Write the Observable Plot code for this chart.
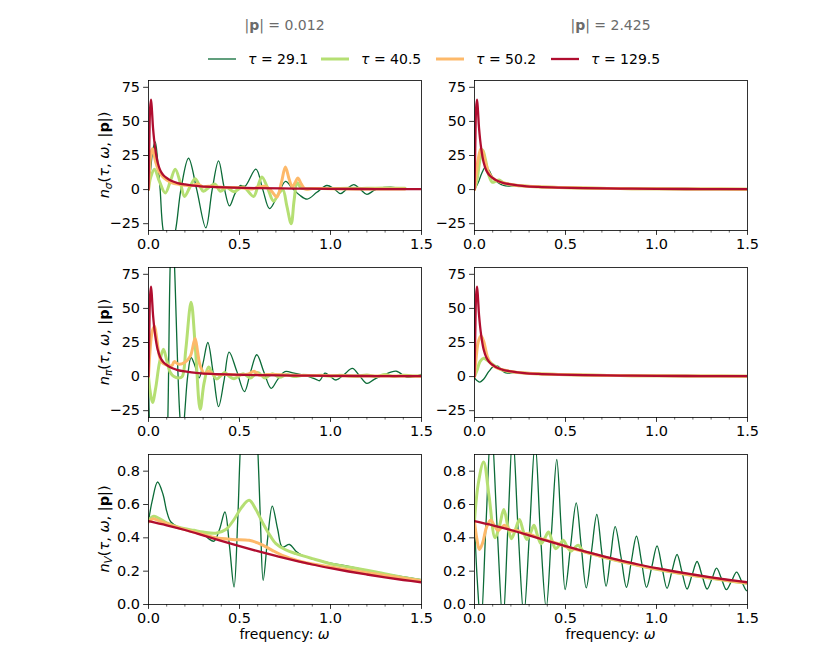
<!DOCTYPE html>
<html><head><meta charset="utf-8">
<script src="https://cdn.jsdelivr.net/npm/d3@7"></script>
<script src="https://cdn.jsdelivr.net/npm/@observablehq/plot@0.6"></script>
<style>
body{margin:0;background:#fff;font-family:"DejaVu Sans",sans-serif;}
#fig{position:relative;width:830px;height:664px;overflow:hidden;background:#fff;}
</style></head><body><div id="fig"></div>
<script>
// ---------- tick labels / categories ----------
const omegaTicks = [0, 0.5, 1.0, 1.5];
const omegaMinor = [0.1,0.2,0.3,0.4,0.6,0.7,0.8,0.9,1.1,1.2,1.3,1.4];
const yTicksN = [-25, 0, 25, 50, 75];
const yTicksV = [0, 0.2, 0.4, 0.6, 0.8];
const tauLabels = ["29.1", "40.5", "50.2", "129.5"];
const momentumLabels = ["0.012", "2.425"];
const rowSubscripts = ["σ", "π", "V"];

// ---------- series: [omega, value] ----------
// n_sigma, |p| = 0.012
const sigA_t29 = [[0,0],[0.012,15],[0.025,30],[0.037,35],[0.05,22],[0.064,0],[0.082,-31],[0.115,-45],[0.147,-31],[0.178,0],[0.22,23],[0.265,0],[0.315,-28],[0.35,0],[0.385,21],[0.415,2],[0.445,-12],[0.475,-3],[0.504,3],[0.53,2.5],[0.59,15],[0.628,0],[0.665,-14],[0.71,-4],[0.753,6],[0.79,1],[0.83,-4],[0.872,-7],[0.925,-2],[0.98,3],[1.02,0.5],[1.055,-3],[1.09,0.5],[1.128,3.7],[1.165,0],[1.2,-3.5],[1.24,-0.5],[1.274,1.2],[1.33,1.7],[1.37,1.3],[1.41,1]];
const sigA_t40 = [[0,0],[0.012,9],[0.033,15],[0.06,6],[0.092,-2.5],[0.12,6],[0.147,15],[0.175,5],[0.198,-5],[0.228,2],[0.256,8],[0.28,3],[0.302,-1.2],[0.335,2],[0.366,4],[0.394,-1.2],[0.43,1.5],[0.47,-1.5],[0.52,2],[0.577,-5],[0.6,2],[0.623,9.3],[0.655,1],[0.687,-8.5],[0.715,-3],[0.738,0],[0.76,-12],[0.784,-25],[0.8,-8],[0.817,5],[0.84,1],[0.9,0.8],[1.0,0.8],[1.1,0.9],[1.2,0.9],[1.3,1.2],[1.41,1]];
const sigA_t50 = [[0,0],[0.006,15],[0.014,27],[0.022,30],[0.03,26],[0.04,20],[0.055,14],[0.075,10],[0.1,7],[0.13,5],[0.16,4],[0.2,3.2],[0.24,3],[0.27,4],[0.3,2],[0.33,2.5],[0.37,2],[0.42,1.5],[0.47,1.5],[0.52,1.2],[0.57,0.5],[0.6,1.5],[0.64,2.4],[0.675,-1],[0.705,-5.4],[0.73,5],[0.752,16.6],[0.772,8],[0.79,2],[0.805,5],[0.82,8.5],[0.84,4],[0.86,0.5],[0.9,0.8],[1.0,0.6],[1.2,0.45],[1.41,0.35]];
// red curve shared by n_sigma and n_pi panels
const nRed_t129 = [[0,0],[0.004,30],[0.009,60],[0.014,66],[0.019,58],[0.025,45],[0.037,30],[0.05,20],[0.065,14],[0.082,10.5],[0.1,8.5],[0.128,6.3],[0.16,4.8],[0.2,3.8],[0.275,2.6],[0.35,2.0],[0.46,1.5],[0.6,1.1],[0.8,0.75],[1.0,0.55],[1.25,0.4],[1.5,0.3]];

// n_sigma, |p| = 2.425
const sigB_t29 = [[0,0],[0.02,5],[0.04,12],[0.06,16.5],[0.08,14],[0.1,9],[0.13,5],[0.16,3],[0.19,2.6],[0.22,2.8],[0.275,2.6],[0.35,2.0],[0.46,1.5],[0.6,1.1],[0.8,0.75],[1.0,0.55],[1.25,0.4],[1.5,0.3]];
const sigB_t40 = [[0,0],[0.015,8],[0.03,22],[0.045,29],[0.06,22],[0.08,10],[0.097,5.5],[0.115,6],[0.135,7],[0.16,5],[0.2,3.6],[0.275,2.6],[0.35,2.0],[0.46,1.5],[0.6,1.1],[0.8,0.75],[1.0,0.55],[1.25,0.4],[1.5,0.3]];
const sigB_t50 = [[0,0],[0.01,12],[0.02,22],[0.035,30],[0.045,28],[0.06,20],[0.08,12],[0.1,8.5],[0.128,6.3],[0.16,4.8],[0.2,3.8],[0.275,2.6],[0.35,2.0],[0.46,1.5],[0.6,1.1],[0.8,0.75],[1.0,0.55],[1.25,0.4],[1.5,0.3]];

// n_pi, |p| = 0.012
const piA_t29 = [[0,0],[0.005,-32],[0.02,-70],[0.05,-90],[0.08,-75],[0.1,-50],[0.106,-32],[0.119,81],[0.131,120],[0.143,81],[0.174,-32],[0.187,-45],[0.2,-25],[0.215,0],[0.234,14],[0.255,8],[0.278,-1],[0.3,10],[0.326,25],[0.355,3],[0.385,-22],[0.415,-3],[0.443,18],[0.485,4],[0.527,-11],[0.56,3],[0.595,16],[0.635,3],[0.674,-8.6],[0.71,-2],[0.75,3.7],[0.8,2.5],[0.87,0.5],[0.92,-2],[0.94,-3],[0.97,2.5],[1.0,0],[1.03,-2.5],[1.075,1.5],[1.12,6],[1.16,0.5],[1.2,-5],[1.24,-2],[1.29,1],[1.36,4],[1.42,-0.5],[1.46,0],[1.5,1.7]];
const piA_t40 = [[0,0],[0.008,-10],[0.022,-19],[0.04,-8],[0.06,10],[0.082,20],[0.1,12],[0.12,3],[0.14,0],[0.165,-1],[0.185,0],[0.205,20],[0.234,54.5],[0.258,20],[0.284,-24],[0.305,-5],[0.33,7],[0.352,2],[0.375,-1.7],[0.4,1],[0.42,3],[0.445,0],[0.47,-1.5],[0.52,2],[0.56,-1],[0.6,3],[0.64,-1],[0.68,2],[0.72,-0.5],[0.76,1.5],[0.8,0],[0.85,1],[0.9,0.5],[0.95,1],[1.0,0.3],[1.05,1],[1.1,0.5],[1.15,0.3],[1.2,1.2],[1.25,0],[1.3,1.5],[1.35,0],[1.4,1],[1.45,0.5],[1.5,0.5]];
const piA_t50 = [[0,0],[0.008,18],[0.02,33],[0.033,37],[0.045,28],[0.06,15],[0.073,10.5],[0.1,8.5],[0.128,8],[0.142,11],[0.165,9],[0.2,10.5],[0.23,15],[0.256,28],[0.27,18],[0.284,8],[0.31,2],[0.33,4],[0.35,2],[0.4,1.5],[0.45,1.5],[0.5,1.2],[0.55,2],[0.58,4],[0.61,1],[0.65,1.5],[0.7,1.5],[0.8,1],[0.9,0.8],[1.0,0.6],[1.25,0.4],[1.5,0.3]];

// n_pi, |p| = 2.425
const piB_t29 = [[0,-1],[0.015,-3],[0.03,-4],[0.05,-2],[0.08,4],[0.11,8],[0.13,7.5],[0.155,4],[0.18,2.5],[0.2,2.8],[0.23,3.2],[0.275,2.6],[0.35,2.0],[0.46,1.5],[0.6,1.1],[0.8,0.75],[1.0,0.55],[1.25,0.4],[1.5,0.3]];
const piB_t40 = [[0,0],[0.015,5],[0.03,11],[0.05,13.5],[0.07,12],[0.09,10],[0.11,8],[0.14,5.5],[0.18,3.9],[0.2,3.6],[0.275,2.6],[0.35,2.0],[0.46,1.5],[0.6,1.1],[0.8,0.75],[1.0,0.55],[1.25,0.4],[1.5,0.3]];
const piB_t50 = [[0,0],[0.01,15],[0.02,25],[0.035,30],[0.05,26],[0.07,15],[0.09,9.5],[0.12,6.5],[0.16,4.8],[0.2,3.8],[0.275,2.6],[0.35,2.0],[0.46,1.5],[0.6,1.1],[0.8,0.75],[1.0,0.55],[1.25,0.4],[1.5,0.3]];

// n_V, |p| = 0.012
const vA_t29 = [[0,0.5],[0.02,0.62],[0.05,0.735],[0.08,0.66],[0.1,0.56],[0.123,0.495],[0.17,0.46],[0.25,0.44],[0.3,0.425],[0.33,0.395],[0.36,0.38],[0.39,0.45],[0.42,0.555],[0.445,0.35],[0.47,0.105],[0.49,0.5],[0.505,0.95],[0.53,1.4],[0.555,1.55],[0.58,1.35],[0.6,0.95],[0.615,0.5],[0.63,0.145],[0.655,0.4],[0.68,0.59],[0.71,0.45],[0.735,0.345],[0.775,0.36],[0.81,0.32],[0.845,0.295],[0.9,0.275],[1.0,0.248],[1.1,0.228],[1.23,0.198],[1.35,0.175],[1.5,0.148]];
const vA_t40 = [[0,0.505],[0.03,0.53],[0.06,0.515],[0.1,0.49],[0.17,0.462],[0.25,0.445],[0.3,0.435],[0.37,0.428],[0.425,0.45],[0.47,0.51],[0.51,0.58],[0.553,0.625],[0.59,0.57],[0.63,0.485],[0.67,0.41],[0.7,0.365],[0.75,0.33],[0.81,0.305],[0.9,0.275],[1.0,0.245],[1.1,0.225],[1.25,0.195],[1.4,0.162],[1.5,0.145]];
const vA_t50 = [[0,0.495],[0.025,0.515],[0.06,0.5],[0.1,0.485],[0.17,0.458],[0.25,0.435],[0.3,0.42],[0.37,0.4],[0.46,0.39],[0.553,0.385],[0.6,0.37],[0.63,0.355],[0.68,0.325],[0.735,0.295],[0.8,0.27],[0.865,0.25],[1.0,0.225],[1.1,0.207],[1.25,0.183],[1.4,0.157],[1.5,0.142]];
// red curve shared by n_V panels
const vRed_t129 = [[0,0.5],[0.1,0.475],[0.2,0.447],[0.3,0.415],[0.4,0.382],[0.5,0.35],[0.6,0.32],[0.7,0.292],[0.8,0.265],[0.9,0.24],[1.0,0.218],[1.1,0.198],[1.2,0.18],[1.3,0.163],[1.4,0.147],[1.5,0.133]];

// n_V, |p| = 2.425
const vB_t29 = [[0,0.5],[0.015,0.15],[0.035,-0.12],[0.063,0.48],[0.092,1.08],[0.124,0.47],[0.156,-0.1],[0.183,0.45],[0.21,1.02],[0.24,0.44],[0.271,-0.06],[0.302,0.43],[0.333,0.97],[0.363,0.41],[0.394,-0.02],[0.423,0.43],[0.452,0.87],[0.475,0.48],[0.498,0.09],[0.528,0.35],[0.559,0.61],[0.586,0.355],[0.614,0.10],[0.643,0.32],[0.672,0.54],[0.698,0.325],[0.723,0.11],[0.748,0.29],[0.773,0.467],[0.805,0.285],[0.835,0.103],[0.862,0.26],[0.89,0.41],[0.918,0.255],[0.945,0.103],[0.975,0.23],[1.003,0.352],[1.03,0.225],[1.058,0.097],[1.085,0.2],[1.113,0.30],[1.14,0.195],[1.168,0.093],[1.195,0.175],[1.223,0.258],[1.25,0.175],[1.278,0.093],[1.305,0.155],[1.33,0.218],[1.357,0.155],[1.384,0.089],[1.412,0.14],[1.44,0.194],[1.467,0.14],[1.494,0.083],[1.5,0.085]];
const vB_t40 = [[0,0.5],[0.02,0.72],[0.05,0.855],[0.08,0.65],[0.113,0.40],[0.137,0.47],[0.161,0.57],[0.183,0.47],[0.203,0.395],[0.225,0.45],[0.247,0.51],[0.268,0.44],[0.288,0.39],[0.308,0.43],[0.327,0.475],[0.347,0.41],[0.366,0.365],[0.387,0.40],[0.407,0.435],[0.427,0.38],[0.447,0.335],[0.468,0.36],[0.487,0.385],[0.51,0.345],[0.53,0.32],[0.55,0.34],[0.57,0.355],[0.6,0.318],[0.65,0.303],[0.7,0.286],[0.8,0.259],[0.9,0.234],[1.0,0.212],[1.1,0.192],[1.2,0.174],[1.3,0.157],[1.4,0.141],[1.5,0.127]];
const vB_t50 = [[0,0.5],[0.012,0.40],[0.027,0.33],[0.045,0.37],[0.065,0.46],[0.088,0.505],[0.108,0.475],[0.128,0.445],[0.147,0.46],[0.165,0.475],[0.185,0.455],[0.205,0.44],[0.225,0.445],[0.245,0.44],[0.265,0.425],[0.29,0.425],[0.32,0.415],[0.35,0.4],[0.4,0.385],[0.45,0.368],[0.5,0.348],[0.6,0.317],[0.7,0.288],[0.8,0.261],[0.9,0.236],[1.0,0.214],[1.1,0.194],[1.2,0.176],[1.3,0.159],[1.4,0.143],[1.5,0.129]];

// ---------- layout / style ----------
const fig = document.getElementById("fig");
const colors = ["#0b6b37", "#b5df73", "#fdb96a", "#b00d2f"];
const widths = [1.3, 3, 3, 2.3];
const W = 273, H = 150, ml = 50, mr = 8, mt = 4, mb = 30;
const colLeft = [148, 474];
const rowTop = [80, 267, 454];

const panels = [
  {row:0, col:0, series:[sigA_t29, sigA_t40, sigA_t50, nRed_t129]},
  {row:0, col:1, series:[sigB_t29, sigB_t40, sigB_t50, nRed_t129]},
  {row:1, col:0, series:[piA_t29, piA_t40, piA_t50, nRed_t129]},
  {row:1, col:1, series:[piB_t29, piB_t40, piB_t50, nRed_t129]},
  {row:2, col:0, series:[vA_t29, vA_t40, vA_t50, vRed_t129]},
  {row:2, col:1, series:[vB_t29, vB_t40, vB_t50, vRed_t129]}
];

const fmtN = d => (d < 0 ? "\u2212" : "") + Math.abs(d);
const fmtV = d => d.toFixed(1);
const tickFont = 14.5;

for (const p of panels) {
  const isV = p.row === 2;
  const chart = Plot.plot({
    width: W + ml + mr, height: H + mt + mb,
    marginLeft: ml, marginRight: mr, marginTop: mt, marginBottom: mb,
    style: {fontFamily: "DejaVu Sans, sans-serif", fontSize: "14.5px", color: "black", background: "transparent", overflow: "visible"},
    x: {domain: [0, 1.5], label: null},
    y: {domain: isV ? [0, 0.9] : [-30, 80], label: null},
    marks: [
      Plot.axisX({ticks: omegaMinor, tickSize: 2.6, strokeWidth: 0.6, tickFormat: () => "", label: null}),
      Plot.axisX({ticks: omegaTicks, tickSize: 4.9, strokeWidth: 0.8, tickPadding: 3.5, fontSize: tickFont, tickFormat: d => d.toFixed(1), label: null}),
      Plot.axisY({ticks: isV ? yTicksV : yTicksN, tickSize: 4.9, strokeWidth: 0.8, tickPadding: 3.5, fontSize: tickFont, tickFormat: isV ? fmtV : fmtN, label: null}),
      ...p.series.map((s, i) => Plot.line(s, {x: d => d[0], y: d => d[1], stroke: colors[i], strokeWidth: widths[i], curve: "catmull-rom", clip: true})),
      Plot.frame({stroke: "black", strokeWidth: 0.8})
    ]
  });
  chart.style.position = "absolute";
  chart.style.left = (colLeft[p.col] - ml) + "px";
  chart.style.top = (rowTop[p.row] - mt) + "px";
  fig.appendChild(chart);
}

// ---------- overlay text: titles, legend, axis labels ----------
const ov = d3.select(fig).append("svg")
  .attr("width", 830).attr("height", 664)
  .style("position", "absolute").style("left", "0px").style("top", "0px")
  .style("pointer-events", "none")
  .attr("font-family", "DejaVu Sans, sans-serif");

momentumLabels.forEach((m, c) => {
  const t = ov.append("text").attr("x", colLeft[c] + W / 2).attr("y", 30)
    .attr("text-anchor", "middle").attr("font-size", 14).attr("fill", "#6b6b6b");
  t.append("tspan").text("|");
  t.append("tspan").attr("font-weight", "bold").text("p");
  t.append("tspan").text("| = " + m);
});

const legendStarts = [208, 321, 436, 551];
tauLabels.forEach((lab, i) => {
  const x0 = legendStarts[i];
  ov.append("line").attr("x1", x0).attr("x2", x0 + 28).attr("y1", 59).attr("y2", 59)
    .attr("stroke", colors[i]).attr("stroke-width", widths[i]);
  const t = ov.append("text").attr("x", x0 + 40).attr("y", 64).attr("font-size", 14).attr("fill", "black");
  t.append("tspan").attr("font-style", "italic").text("τ");
  t.append("tspan").text(" = " + lab);
});

rowSubscripts.forEach((sub, r) => {
  const t = ov.append("text")
    .attr("transform", `translate(109,${rowTop[r] + H / 2}) rotate(-90)`)
    .attr("text-anchor", "middle").attr("font-size", 14.5).attr("fill", "black");
  t.append("tspan").attr("font-style", "italic").text("n");
  t.append("tspan").attr("font-style", "italic").attr("font-size", 10.5).attr("dy", 3).text(sub);
  t.append("tspan").attr("dy", -3).text("(");
  t.append("tspan").attr("font-style", "italic").text("τ");
  t.append("tspan").text(", ");
  t.append("tspan").attr("font-style", "italic").text("ω");
  t.append("tspan").text(", |");
  t.append("tspan").attr("font-weight", "bold").text("p");
  t.append("tspan").text("|)");
});

colLeft.forEach(cx => {
  const t = ov.append("text").attr("x", cx + W / 2).attr("y", 639)
    .attr("text-anchor", "middle").attr("font-size", 14).attr("fill", "black");
  t.append("tspan").text("frequency: ");
  t.append("tspan").attr("font-style", "italic").text("ω");
});
</script></body></html>
